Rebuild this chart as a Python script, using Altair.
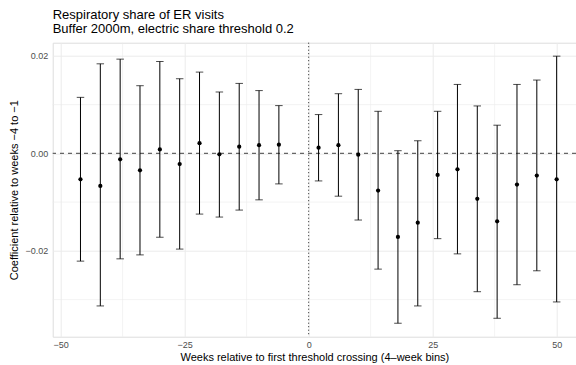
import altair as alt
import pandas as pd

weeks = [-46, -42, -38, -34, -30, -26, -22, -18, -14, -10, -6,
         2, 6, 10, 14, 18, 22, 26, 30, 34, 38, 42, 46, 50]
coef = [-0.00531, -0.00667, -0.00122, -0.00347, 0.00082, -0.00218, 0.00210, -0.00020, 0.00137, 0.00169, 0.00178,
        0.00116, 0.00169, -0.00027, -0.00762, -0.01714, -0.01422, -0.00443, -0.00327, -0.00933, -0.01394, -0.00639, -0.00455, -0.00531]
upper = [0.01149, 0.01837, 0.01933, 0.01388, 0.01884, 0.01531, 0.01667, 0.01259, 0.01435, 0.01288, 0.00980,
         0.00796, 0.01224, 0.01312, 0.00863, 0.00055, 0.00259, 0.00863, 0.01414, 0.00973, 0.00578, 0.01414, 0.01504, 0.01994]
lower = [-0.02210, -0.03129, -0.02163, -0.02082, -0.01720, -0.01963, -0.01245, -0.01306, -0.01163, -0.00953, -0.00626,
         -0.00565, -0.00878, -0.01367, -0.02374, -0.03484, -0.03129, -0.01749, -0.02061, -0.02837, -0.03382, -0.02694, -0.02408, -0.03047]

major_x = [-50, -25, 0, 25, 50]
minor_x = [-37.5, -12.5, 12.5, 37.5]
major_y = [-0.02, 0.0, 0.02]
minor_y = [-0.03, -0.01, 0.01]
ref_y = [0.0]
ref_x = [0.0]

df = pd.DataFrame({"week": weeks, "coef": coef, "upper": upper, "lower": lower})

FONT = "Liberation Sans"
GRID = "#EBEBEB"

xs = alt.Scale(domain=[-51.6, 53.9], nice=False, zero=False)
ys = alt.Scale(domain=[-0.0376, 0.0227], nice=False, zero=False)

x_axis = alt.Axis(values=major_x, format="d", title="Weeks relative to first threshold crossing (4\u2013week bins)",
                  grid=True, gridColor=GRID, gridWidth=1, domain=False, ticks=False,
                  labelColor="#4D4D4D", labelFontSize=9, labelPadding=4, labelFont=FONT,
                  titleFont=FONT, titleFontSize=11, titleFontWeight="normal", titleColor="black", titlePadding=2)
y_axis = alt.Axis(values=major_y, format=".2f", title="Coefficient relative to weeks \u22124 to \u22121",
                  grid=True, gridColor=GRID, gridWidth=1, domain=False, ticks=False,
                  labelColor="#4D4D4D", labelFontSize=9, labelPadding=5, labelFont=FONT,
                  titleFont=FONT, titleFontSize=11, titleFontWeight="normal", titleColor="black", titlePadding=5)

minor_h = alt.Chart(pd.DataFrame({"y": minor_y})).mark_rule(color=GRID, strokeWidth=0.6).encode(
    y=alt.Y("y:Q", scale=ys, axis=y_axis))
minor_v = alt.Chart(pd.DataFrame({"x": minor_x})).mark_rule(color=GRID, strokeWidth=0.6).encode(
    x=alt.X("x:Q", scale=xs, axis=x_axis))

hline = alt.Chart(pd.DataFrame({"y": ref_y})).mark_rule(color="#666666", strokeWidth=1.1, strokeDash=[4, 4]).encode(
    y=alt.Y("y:Q", scale=ys))
vline = alt.Chart(pd.DataFrame({"x": ref_x})).mark_rule(color="#222222", strokeWidth=1, strokeDash=[1, 2.5]).encode(
    x=alt.X("x:Q", scale=xs))

bars = alt.Chart(df).mark_rule(color="black", strokeWidth=1).encode(
    x=alt.X("week:Q", scale=xs), y=alt.Y("lower:Q", scale=ys), y2="upper:Q")
cap_lo = alt.Chart(df).mark_tick(color="black", orient="horizontal", size=7.5, thickness=1).encode(
    x=alt.X("week:Q", scale=xs), y=alt.Y("lower:Q", scale=ys))
cap_hi = alt.Chart(df).mark_tick(color="black", orient="horizontal", size=7.5, thickness=1).encode(
    x=alt.X("week:Q", scale=xs), y=alt.Y("upper:Q", scale=ys))
pts = alt.Chart(df).mark_circle(color="black", size=18, opacity=1).encode(
    x=alt.X("week:Q", scale=xs), y=alt.Y("coef:Q", scale=ys))

chart = alt.layer(minor_h, minor_v, hline, vline, bars, cap_lo, cap_hi, pts).properties(
    width=523.3, height=294,
    title=alt.TitleParams(
        text=["Respiratory share of ER visits", "Buffer 2000m, electric share threshold 0.2"],
        anchor="start", frame="group", font=FONT, fontSize=13, fontWeight="normal",
        color="black", lineHeight=14, offset=6),
    autosize=alt.AutoSizeParams(type="none"),
    padding={"left": 52.7, "top": 42.7, "right": 0, "bottom": 28.3},
).configure_view(stroke=None).configure(background="white")

chart.save("out.html", embed_options={"renderer": "svg", "actions": False})
